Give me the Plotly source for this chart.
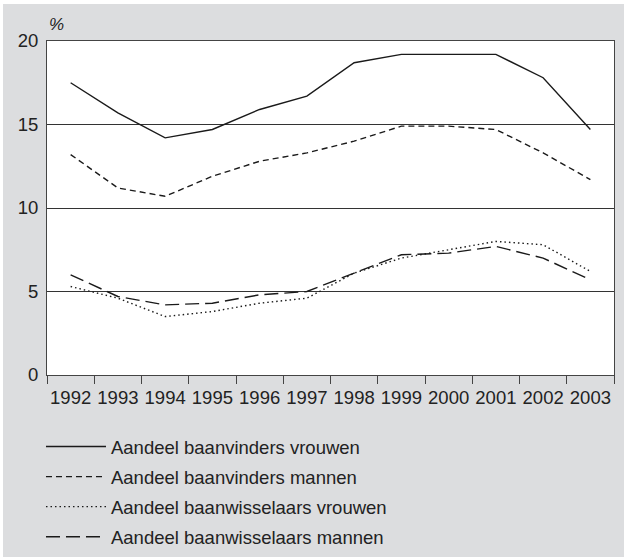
import plotly.graph_objects as go

years = ["1992", "1993", "1994", "1995", "1996", "1997", "1998", "1999", "2000", "2001", "2002", "2003"]
baanvinders_vrouwen = [17.5, 15.7, 14.2, 14.7, 15.9, 16.7, 18.7, 19.2, 19.2, 19.2, 17.8, 14.7]
baanvinders_mannen = [13.2, 11.2, 10.7, 11.9, 12.8, 13.3, 14.0, 14.9, 14.9, 14.7, 13.3, 11.7]
baanwisselaars_vrouwen = [5.3, 4.6, 3.5, 3.8, 4.3, 4.6, 6.1, 7.0, 7.5, 8.0, 7.8, 6.2]
baanwisselaars_mannen = [6.0, 4.7, 4.2, 4.3, 4.8, 5.0, 6.1, 7.2, 7.3, 7.7, 7.0, 5.7]

names = ["Aandeel baanvinders vrouwen", "Aandeel baanvinders mannen",
         "Aandeel baanwisselaars vrouwen", "Aandeel baanwisselaars mannen"]
series = [baanvinders_vrouwen, baanvinders_mannen, baanwisselaars_vrouwen, baanwisselaars_mannen]
dashes = ["solid", "6px,4px", "1.5px,3px", "14px,6px"]
widths = [1.4, 1.4, 1.4, 1.4]

FONT = "Liberation Sans, Arial, sans-serif"
TXT = "#222222"
GREY = "#dcdddf"

fig = go.Figure()
for i, (nm, vals, ds, w) in enumerate(zip(names, series, dashes, widths)):
    fig.add_trace(go.Scatter(x=years, y=vals, mode="lines", name=nm,
                             legendgroup=f"g{i}",
                             line=dict(color="#1a1a1a", width=w, dash=ds)))

fig.update_layout(
    width=624, height=557,
    margin=dict(l=47, r=10, t=41, b=182, autoexpand=False),
    paper_bgcolor=GREY, plot_bgcolor="white",
    font=dict(family=FONT, size=18.5, color=TXT),
    showlegend=True,
    legend=dict(x=-0.0106, xanchor="left", y=-0.1587, yanchor="top",
                bgcolor="rgba(0,0,0,0)", tracegroupgap=3,
                font=dict(size=18.5), itemwidth=60),
    xaxis=dict(type="category", range=[-0.5, 11.5], tickson="boundaries",
               ticks="outside", ticklen=8, tickcolor="#444", tickwidth=1,
               showline=True, linecolor="#444", linewidth=1, mirror=True,
               showgrid=False, tickangle=0, automargin=False,
               ticklabelstandoff=6,
               tickfont=dict(size=18.5, color=TXT)),
    yaxis=dict(range=[0, 20], tickvals=[0, 5, 10, 15, 20], ticks="",
               showline=True, linecolor="#444", linewidth=1, mirror=True,
               showgrid=True, gridcolor="#333", gridwidth=1, zeroline=False,
               automargin=False,
               tickfont=dict(size=18.5, color=TXT), ticklabelstandoff=4),
    annotations=[dict(text="%", xref="paper", yref="paper", x=0, y=1.0,
                      xanchor="left", yanchor="bottom", yshift=5, showarrow=False,
                      font=dict(size=17, color=TXT, style="italic"))],
    shapes=[
        dict(type="rect", xref="paper", yref="paper", x0=-0.09, x1=1.05,
             y0=(375 - 4) / 334, y1=1.2, fillcolor="white", line=dict(width=0), layer="below"),
        dict(type="rect", xref="paper", yref="paper", x0=-0.09, x1=(3 - 47) / 567,
             y0=-0.6, y1=1.2, fillcolor="white", line=dict(width=0), layer="below"),
    ],
)

fig.write_html("out.html", config={"displayModeBar": False},
               post_script="document.body.style.margin='0px';document.body.style.overflow='hidden';")
